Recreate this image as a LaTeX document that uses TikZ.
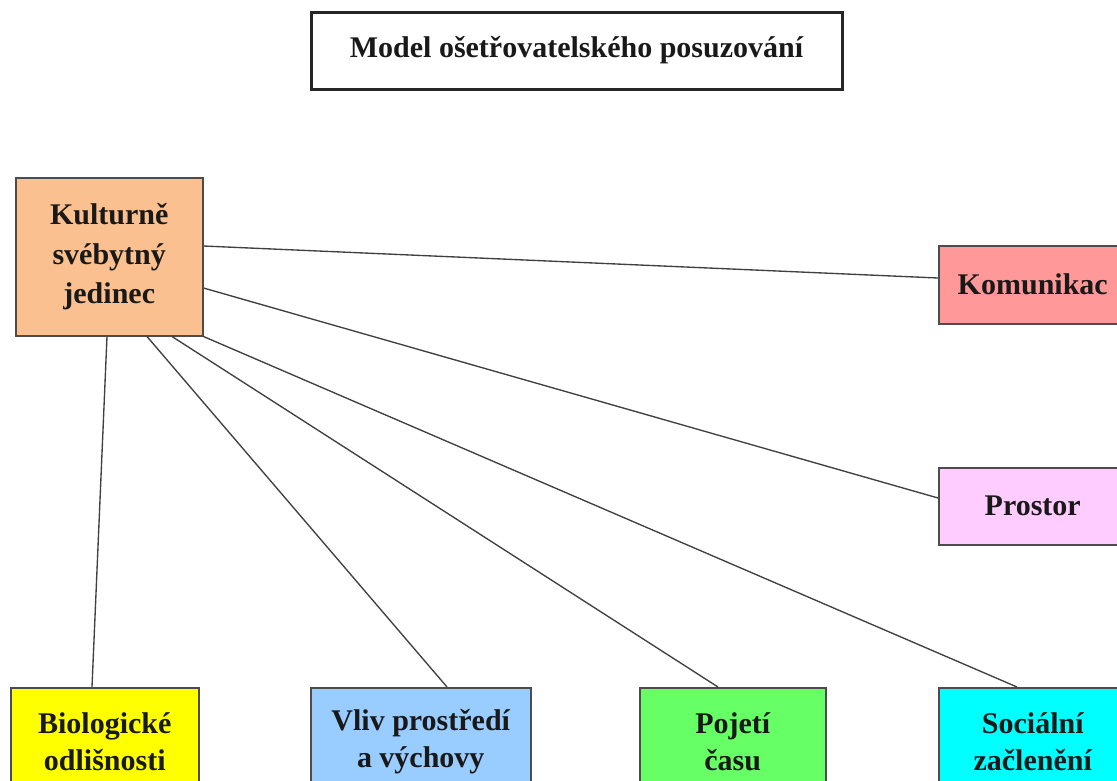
\documentclass[tikz,border=0pt]{standalone}
\usepackage{fontspec}
\setmainfont{Liberation Serif}
\usetikzlibrary{calc}
\definecolor{peach}{HTML}{FAC090}
\definecolor{salmon}{HTML}{FF9999}
\definecolor{lilac}{HTML}{FFCCFF}
\definecolor{sky}{HTML}{99CCFF}
\definecolor{lime}{HTML}{66FF66}
\definecolor{pureyellow}{HTML}{FFFF00}
\definecolor{purecyan}{HTML}{00FFFF}
\begin{document}
\begin{tikzpicture}[x=1pt,y=-1pt,
  box/.style={draw=black!70, line width=1.5pt, inner sep=0pt, align=center,
    font=\fontsize{30}{39.5}\selectfont\bfseries, text=black!90},
  lowbox/.style={box, font=\fontsize{30}{37}\selectfont\bfseries,
    minimum height=107pt, anchor=north west},
  link/.style={draw=black!75, line width=1.35pt}]
  \useasboundingbox (0,0) rectangle (1117,780);
  \clip (0,0) rectangle (1117,780);

  % title
  \node[draw=black!85, line width=3pt, minimum width=531pt, minimum height=77pt,
        font=\fontsize{30}{36}\selectfont\bfseries, text=black!90] (title) at (576.5,50.5)
        {Model ošetřovatelského posuzování};

  % central node
  \node[box, fill=peach, minimum width=187pt, minimum height=158pt, anchor=north west]
        (kul) at (15,177) {Kulturně\\svébytný\\jedinec};

  % right column
  \node[box, fill=salmon, minimum width=188pt, minimum height=78pt, anchor=north west]
        (kom) at (938,245) {Komunikac};
  \node[box, fill=lilac, minimum width=188pt, minimum height=77pt, anchor=north west]
        (pro) at (938,467) {Prostor};

  % bottom row
  \node[lowbox, fill=pureyellow, minimum width=188pt] (bio) at (10,687) {Biologické\\odlišnosti};
  \node[lowbox, fill=sky, minimum width=220pt] (vliv) at (310,687) {Vliv prostředí\\a výchovy};
  \node[lowbox, fill=lime, minimum width=186pt] (poj) at (639,687) {Pojetí\\času};
  \node[lowbox, fill=purecyan, minimum width=188pt] (soc) at (938,687) {Sociální\\začlenění};

  % connectors
  \draw[link] ($(kul.north east)+(0,69)$) -- ($(kom.north west)+(0,33)$);
  \draw[link] ($(kul.north east)+(0,111)$) -- ($(pro.north west)+(0,31)$);
  \draw[link] ($(kul.south west)+(92,0)$) -- ($(bio.north west)+(82,0)$);
  \draw[link] ($(kul.south west)+(132,0)$) -- ($(vliv.north west)+(137,0)$);
  \draw[link] ($(kul.south west)+(157,0)$) -- ($(poj.north west)+(79,0)$);
  \draw[link] (kul.south east) -- ($(soc.north west)+(79,0)$);
\end{tikzpicture}
\end{document}
